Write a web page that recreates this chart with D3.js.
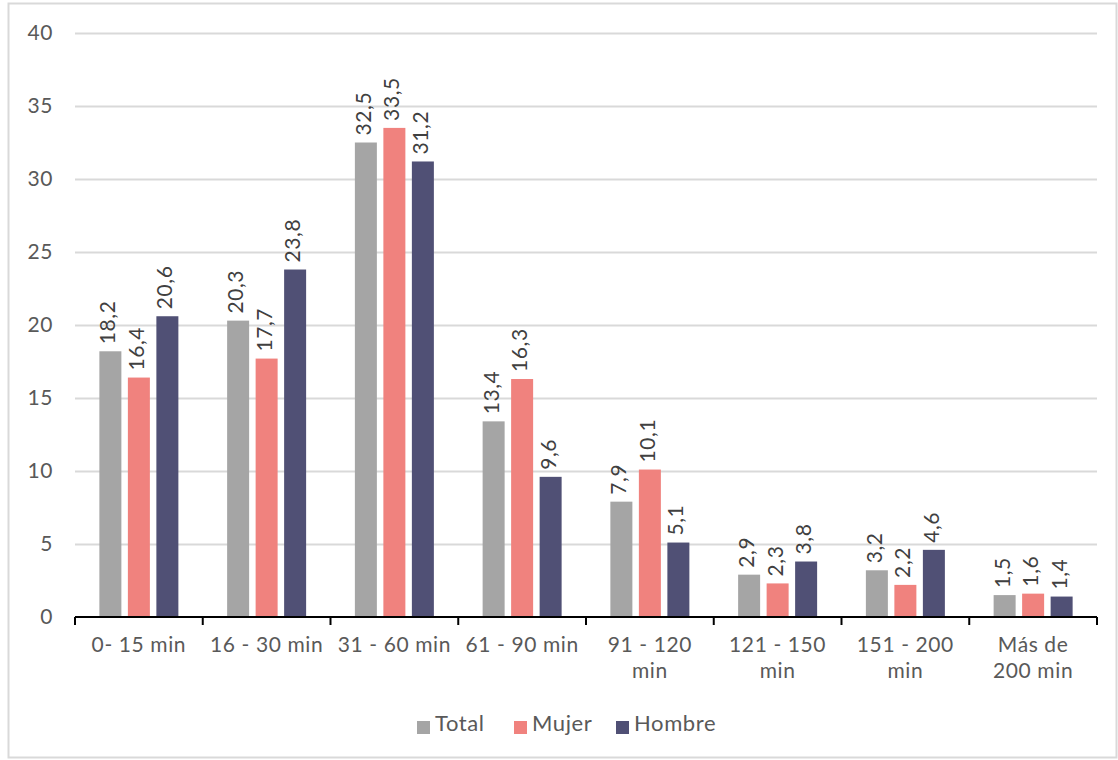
<!DOCTYPE html>
<html>
<head>
<meta charset="utf-8">
<script src="https://cdn.jsdelivr.net/npm/d3@7"></script>
<style>
  body { margin: 0; background: #fff; }
  text { font-family: Lato, "Open Sans", sans-serif; fill: #595959; letter-spacing: 0.6px; }
</style>
</head>
<body>
<script>
// data
var categories = [["0- 15 min"], ["16 - 30 min"], ["31 - 60 min"], ["61 - 90 min"],
                  ["91 - 120", "min"], ["121 - 150", "min"], ["151 - 200", "min"], ["Más de", "200 min"]];
var seriesNames = ["Total", "Mujer", "Hombre"];
var total  = [18.2, 20.3, 32.5, 13.4, 7.9, 2.9, 3.2, 1.5];
var mujer  = [16.4, 17.7, 33.5, 16.3, 10.1, 2.3, 2.2, 1.6];
var hombre = [20.6, 23.8, 31.2, 9.6, 5.1, 3.8, 4.6, 1.4];
var yTicks = [0, 5, 10, 15, 20, 25, 30, 35, 40];

var colors = ["#A5A5A5", "#F0827E", "#505075"];

// margin
var width = 1118, height = 760;
var margin = {top: 33, right: 21, bottom: 143, left: 75};
var innerW = width - margin.left - margin.right,
    innerH = height - margin.top - margin.bottom;

var svg = d3.select("body").append("svg")
    .attr("width", width)
    .attr("height", height);

// chart frame
svg.append("rect")
    .attr("x", 8.5).attr("y", 3.5)
    .attr("width", width - 10).attr("height", height - 6)
    .attr("fill", "none").attr("stroke", "#d9d9d9").attr("stroke-width", 2);

var g = svg.append("g")
    .attr("transform", "translate(" + margin.left + "," + margin.top + ")");

var x = d3.scaleBand()
    .domain(d3.range(categories.length))
    .range([0, innerW]);

var y = d3.scaleLinear()
    .domain([0, 40])
    .range([innerH, 0]);

var barW = 22, step = 28.5;
var x1 = d3.scaleOrdinal()
    .domain(seriesNames)
    .range([-step, 0, step]);

// gridlines
g.selectAll(".grid")
    .data(yTicks.filter(function(d) { return d > 0; }))
  .enter().append("line")
    .attr("x1", 0).attr("x2", innerW)
    .attr("y1", function(d) { return y(d) + 0.5; })
    .attr("y2", function(d) { return y(d) + 0.5; })
    .attr("stroke", "#d9d9d9").attr("stroke-width", 2);

// y labels
g.selectAll(".ylab")
    .data(yTicks)
  .enter().append("text")
    .attr("x", -22)
    .attr("y", function(d) { return y(d); })
    .attr("dy", "0.35em")
    .attr("text-anchor", "end")
    .style("font-size", "21px")
    .text(function(d) { return d; });

var rows = categories.map(function(c, i) {
  return [total[i], mujer[i], hombre[i]];
});

var groups = g.selectAll(".grp")
    .data(rows)
  .enter().append("g")
    .attr("transform", function(d, i) { return "translate(" + (x(i) + x.bandwidth() / 2) + ",0)"; });

groups.selectAll("rect")
    .data(function(d) { return d.map(function(v, j) { return {v: v, s: seriesNames[j], j: j}; }); })
  .enter().append("rect")
    .attr("x", function(d) { return x1(d.s) - barW / 2; })
    .attr("y", function(d) { return y(d.v); })
    .attr("width", barW)
    .attr("height", function(d) { return innerH - y(d.v); })
    .attr("fill", function(d) { return colors[d.j]; });

groups.selectAll(".val")
    .data(function(d) { return d.map(function(v, j) { return {v: v, s: seriesNames[j], j: j}; }); })
  .enter().append("text")
    .attr("transform", function(d) { return "translate(" + (x1(d.s) + 5) + "," + (y(d.v) - 7) + ") rotate(-90)"; })
    .style("font-size", "21px")
    .style("fill", "#404040")
    .text(function(d) { return String(d.v.toFixed(1)).replace(".", ","); });

// x axis
var axis = g.append("g").attr("transform", "translate(0," + innerH + ")");
axis.append("line")
    .attr("x1", 0).attr("x2", innerW)
    .attr("stroke", "#000").attr("stroke-width", 2);
axis.selectAll(".tick")
    .data(d3.range(categories.length + 1))
  .enter().append("line")
    .attr("x1", function(i) { return i * x.step(); })
    .attr("x2", function(i) { return i * x.step(); })
    .attr("y1", 0).attr("y2", 8)
    .attr("stroke", "#000").attr("stroke-width", 2);

axis.selectAll(".xlab")
    .data(categories)
  .enter().append("text")
    .attr("x", function(d, i) { return x(i) + x.bandwidth() / 2; })
    .attr("y", 35)
    .attr("text-anchor", "middle")
    .style("font-size", "21px")
    .each(function(d) {
      var t = d3.select(this);
      d.forEach(function(line, k) {
        t.append("tspan")
          .attr("x", t.attr("x"))
          .attr("dy", k === 0 ? 0 : 26)
          .text(line);
      });
    });

// legend
var legend = svg.append("g").attr("transform", "translate(0,722)");
var legX = [417, 514, 616];
seriesNames.forEach(function(s, i) {
  legend.append("rect")
    .attr("x", legX[i]).attr("y", -1)
    .attr("width", 13).attr("height", 13)
    .attr("fill", colors[i]);
  legend.append("text")
    .attr("x", legX[i] + 18).attr("y", 9)
    .style("font-size", "22px")
    .text(s);
});
</script>
</body>
</html>
